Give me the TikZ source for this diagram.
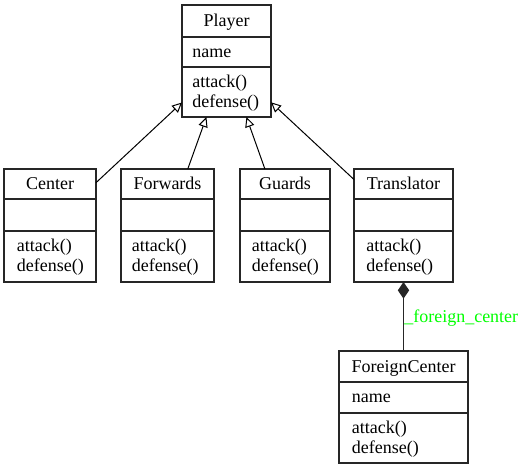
\documentclass[tikz,border=0pt]{standalone}
\usepackage{fontspec}
\setmainfont{Liberation Serif}
\usetikzlibrary{arrows.meta,fit}
\definecolor{lblgreen}{RGB}{0,255,0}
\newcommand\umlbox[7]{%
  \node[box, fit={(#2,#3) (#4,#7)}] (#1) {};
  \draw[sep] (#2,#5) -- (#4,#5);
  \draw[sep] (#2,#6) -- (#4,#6);
}
\newcommand\umlmeth[3]{% name, x, baseline of first line
  \node[txt] (#1-m1) at (#2,#3) {attack()};
  \node[txt] (#1-m2) at (#2,#3+20) {defense()};
}
\begin{document}
\begin{tikzpicture}[x=0.75pt,y=-0.75pt,
  box/.style={draw=black!85, line width=0.9pt, inner sep=0pt, outer sep=0pt},
  sep/.style={draw=black!85, line width=0.9pt},
  ttl/.style={anchor=base, inner sep=0pt, font=\fontsize{13.5}{15}\selectfont},
  txt/.style={anchor=base west, inner sep=0pt, font=\fontsize{13.5}{15}\selectfont},
  inh/.style={draw=black, line width=0.75pt, -{Triangle[open, length=7.5pt, width=7pt, fill=white]}},
  comp/.style={draw=black!85, line width=0.9pt, {Diamond[length=12.5pt, width=8.5pt]}-},
  lbl/.style={anchor=base west, inner sep=0pt, text=lblgreen, font=\fontsize{13.5}{15}\selectfont}
]
\useasboundingbox (0,0) rectangle (527,469);

% Player
\umlbox{player}{182}{5}{271}{37}{67}{117}
\node[ttl] (player-t) at (226.5,26.5) {Player};
\node[txt] (player-a) at (192,57) {name};
\umlmeth{player}{192}{87.5}

% Center
\umlbox{center}{4}{169}{96}{199}{231}{282}
\node[ttl] (center-t) at (50,189.5) {Center};
\umlmeth{center}{16.7}{251.5}

% Forwards
\umlbox{forwards}{121}{169}{214}{199}{231}{282}
\node[ttl] (forwards-t) at (167.5,189.5) {Forwards};
\umlmeth{forwards}{131.5}{251.5}

% Guards
\umlbox{guards}{240}{169}{330}{199}{231}{282}
\node[ttl] (guards-t) at (285,189.5) {Guards};
\umlmeth{guards}{251.7}{251.5}

% Translator
\umlbox{translator}{354}{169}{453}{199}{231}{282}
\node[ttl] (translator-t) at (403.5,189.5) {Translator};
\umlmeth{translator}{366}{251.5}

% ForeignCenter
\umlbox{foreign}{339}{351}{468}{382}{413}{463}
\node[ttl] (foreign-t) at (403.5,372) {ForeignCenter};
\node[txt] (foreign-a) at (351.7,402) {name};
\umlmeth{foreign}{351.7}{433}

% Inheritance
\draw[inh] (center) -- (player);
\draw[inh] (forwards) -- (player);
\draw[inh] (guards) -- (player);
\draw[inh] (translator) -- (player);

% Composition
\draw[comp] (translator) -- (foreign);
\node[lbl] (fc-label) at (404,322) {\_foreign\_center};
\end{tikzpicture}
\end{document}
